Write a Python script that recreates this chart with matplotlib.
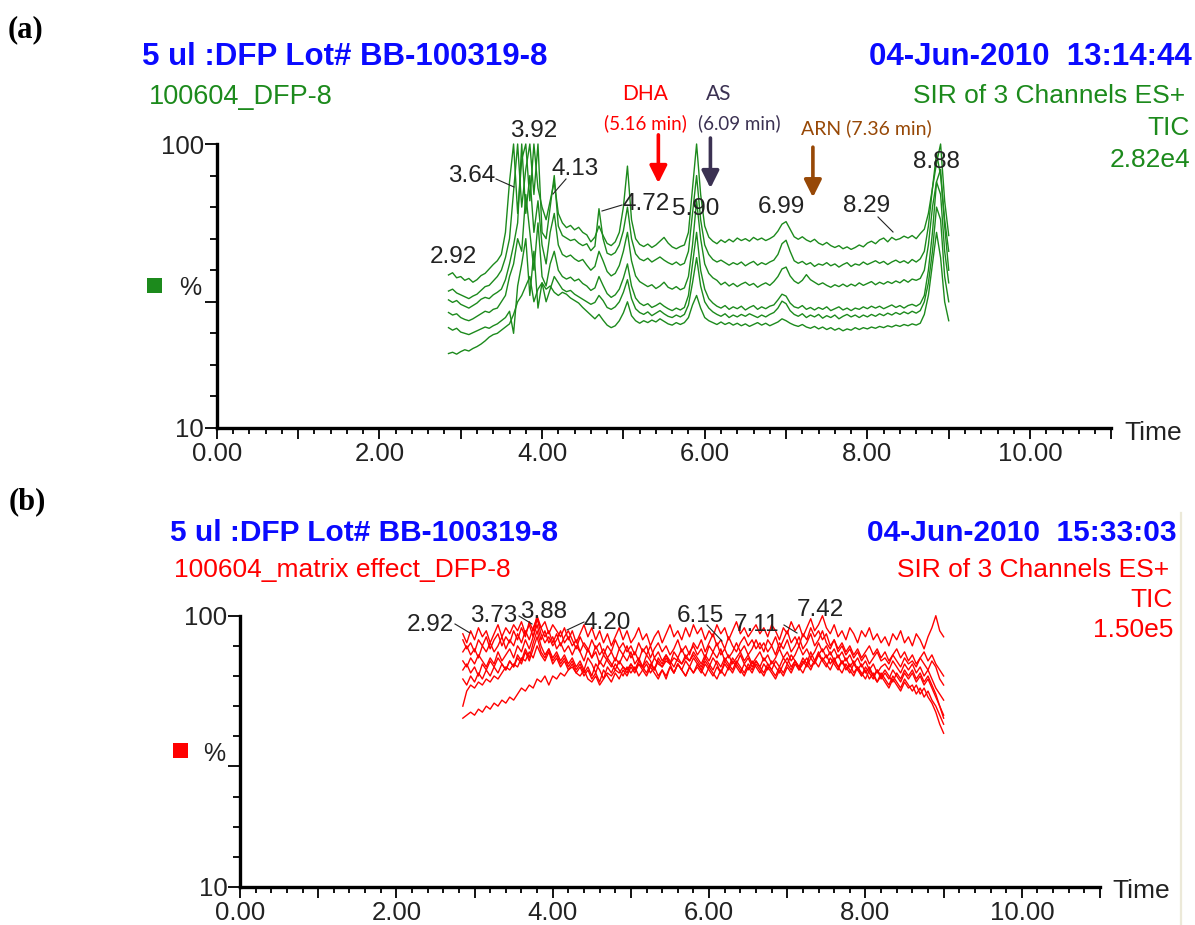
import numpy as np
import matplotlib
matplotlib.use("Agg")
import matplotlib.pyplot as plt
from matplotlib.patches import Rectangle
from matplotlib.lines import Line2D

W, H = 1195, 925
plt.rcParams['font.family'] = ['Liberation Sans', 'DejaVu Sans']

# ---------------- data ----------------
# sampling grid (min), 0.05 min steps from 2.85 to 9.00
TIME = np.round(2.85 + 0.05 * np.arange(124), 2)

tic_a1 = [58.5, 59.2, 57.6, 58.0, 56.8, 57.4, 56.2, 57.0, 58.3, 59.0, 60.4, 61.8,
          63, 65, 72, 88, 100, 78, 95, 100, 82, 100, 86, 80, 76, 82, 88, 78,
          75, 73.5, 74.2, 72.8, 73.6, 72.0, 71.2, 69.0, 70.5,
          74, 71, 68.5, 67.8, 69.0, 72, 80, 93, 76, 70, 68.2, 67.5, 68.3, 67.2, 68.0,
          69.2, 70.4, 68.6, 67.4, 66.8, 67.5, 68.0, 72, 86, 100, 84, 74, 70.5, 69.2,
          68.4, 69.6, 68.8, 69.8, 69.0, 70.2, 69.4, 70.0, 69.2, 70.4, 69.6, 70.2, 69.4,
          70.0, 70.8, 72.4, 74.6, 75.4, 73.0, 70.6, 69.8, 70.6, 69.6, 69.0, 69.8, 68.6,
          68.0, 68.8, 67.8, 67.2, 67.8, 66.8, 67.4, 66.6, 67.2, 68.0, 67.4, 68.6, 69.2,
          68.4, 69.6, 70.2, 69.0, 70.4, 69.6, 70.0, 70.8, 70.2, 71.0, 70.0, 71.6, 73,
          78, 86, 94, 100, 82, 71]
tic_a2 = [53.4, 54.0, 52.8, 52.2, 51.6, 51.0, 51.8, 52.4, 53.6, 54.8, 55.2, 56.6,
          58, 60, 64, 70, 85, 100, 80, 92, 100, 84, 100, 72, 70, 80, 90, 74,
          71.0, 70.2, 69.4, 69.8, 68.6, 67.8, 68.4, 66.2, 67.6,
          79.5, 70.0, 65.4, 64.8, 65.6, 68.0, 72.5, 80.0, 70.0,
          65.2, 63.6, 63.0, 63.8, 62.6, 63.4, 64.2, 63.2, 62.4, 61.8, 62.6, 61.6, 62.2,
          66, 78, 90, 76, 68,
          65.0, 63.4, 62.6, 63.2, 62.4, 61.6, 62.4, 61.8, 62.6, 61.4, 62.2, 62.8, 61.6,
          62.4, 61.8, 62.6, 63.2,
          65.0, 68.4, 69.5, 66.0, 63.0,
          62.2, 62.8, 61.8, 62.4, 61.2, 62.0, 61.6, 62.4, 61.4, 62.0, 61.0, 61.8, 62.4,
          61.2, 62.0, 61.6, 62.6, 61.8, 62.4, 63.0, 62.2, 62.8, 61.8, 62.6, 63.2, 62.4,
          63.0, 62.2, 63.4, 62.6, 63.6,
          66, 74, 86, 97, 90, 76, 66]
tic_a3 = [50.6, 49.8, 50.4, 49.2, 48.6, 48.0, 48.8, 49.6, 50.8, 51.4, 51.0, 52.2,
          53, 54, 57, 62, 68, 75, 100, 78, 90, 72, 82, 68, 62, 72, 78, 68,
          65.0, 64.2, 64.8, 63.6, 62.8, 63.4, 61.6, 60.0, 61.2,
          66.0, 63.0, 59.6, 58.2, 59.0, 61.5, 66.0, 72.0, 63.0,
          58.2, 56.4, 55.6, 54.8, 55.4, 54.2, 55.0, 56.2, 54.6, 54.0, 54.8, 53.8, 54.4,
          58, 68, 82, 70, 62,
          59.0, 57.6, 56.8, 55.4, 56.2, 55.0, 55.8, 54.8, 55.6, 56.2, 55.2, 55.8, 54.6,
          55.4, 56.0, 55.2, 56.4,
          58.0, 60.4, 61.0, 58.2, 56.6,
          55.8, 56.8, 58.6, 57.0, 56.2, 55.4, 56.0, 55.2, 54.6, 55.4, 54.8, 55.6, 54.8,
          55.6, 55.0, 56.0, 55.2, 55.8, 56.4, 55.4, 56.2, 55.6, 56.4, 55.8, 56.6, 56.0,
          57.0, 56.2, 57.2, 56.8, 57.4,
          60, 68, 80, 88, 92, 74, 60]
tic_a4 = [46.6, 45.8, 46.2, 45.0, 44.4, 44.0, 44.6, 45.4, 46.2, 47.0, 46.6, 47.6,
          48, 50, 52, 58, 62, 70, 66, 84, 72, 60, 75, 58, 55, 62, 66, 60,
          58.0, 57.2, 57.8, 56.6, 57.2, 55.8, 55.0, 53.6, 54.4,
          58.0, 55.2, 52.6, 51.4, 52.2, 54.0, 57.5, 62.0, 55.0,
          51.2, 49.6, 48.8, 49.4, 48.2, 48.8, 49.6, 48.6, 47.8, 47.2, 48.0, 47.4, 48.2,
          52, 62, 72, 60, 54,
          51.0, 49.6, 48.6, 48.0, 48.8, 47.6, 48.4, 47.8, 48.6, 47.4, 48.2, 48.8, 47.6,
          48.4, 47.8, 48.6, 49.0,
          50.6, 52.4, 51.8, 49.6, 48.4,
          48.0, 48.8, 47.6, 48.2, 47.4, 48.2, 47.6, 48.4, 47.2, 47.8, 48.4, 47.4, 48.0,
          47.2, 48.0, 47.6, 48.4, 47.8, 48.6, 48.0, 48.6, 47.8, 48.4, 49.0, 48.2, 48.8,
          48.0, 48.8, 49.2, 48.6, 49.4,
          52, 60, 72, 88, 84, 66, 56]
tic_a5 = [41.8, 41.0, 41.6, 40.4, 40.0, 39.6, 40.2, 40.8, 41.4, 42.0, 41.6, 42.4,
          43, 44, 45, 47, 40, 55, 62, 70, 52, 66, 48, 56, 50, 54, 58, 56,
          54.0, 53.2, 53.6, 52.4, 51.6, 50.8, 50.0, 49.2, 49.8,
          52.0, 50.4, 48.2, 47.6, 48.4, 50.0, 53.0, 57.0, 51.0,
          47.8, 46.6, 46.0, 46.8, 45.6, 46.4, 47.2, 46.2, 45.4, 45.0, 45.8, 45.2, 46.0,
          49, 56, 64, 55, 50,
          48.0, 46.8, 46.0, 45.4, 46.2, 45.0, 45.8, 45.2, 46.0, 45.4, 46.2, 45.6, 45.0,
          45.8, 45.2, 46.0, 46.6,
          48.0, 50.2, 49.4, 47.2, 46.0,
          45.4, 46.2, 45.0, 45.8, 45.2, 46.0, 44.8, 45.6, 45.0, 45.8, 44.6, 45.4, 46.0,
          45.2, 45.8, 45.0, 45.8, 45.2, 46.0, 45.4, 46.2, 45.6, 46.4, 45.8, 46.6, 46.0,
          46.8, 46.2, 47.0, 46.4, 47.2,
          50, 56, 66, 80, 76, 58, 50]
tic_a6 = [33.6, 34.0, 33.4, 34.2, 34.8, 34.4, 35.2, 35.8, 36.6, 37.6, 38.8, 39.6,
          40, 41, 42, 43, 46, 50, 52, 55, 58, 50, 54, 56, 54, 55, 53, 52,
          53.0, 52.4, 51.2, 50.4, 49.6, 48.2, 47.0, 45.8, 44.6,
          46.0, 44.2, 42.6, 41.8, 42.4, 44.0, 46.5, 50.0, 45.6,
          44.0, 43.2, 44.0, 43.4, 44.2, 43.6, 44.6, 43.8, 43.0, 42.6, 43.4, 42.8, 43.4,
          45, 49, 52, 48, 45,
          44.0, 43.4, 42.8, 43.6, 42.8, 43.4, 42.6, 43.2, 42.4, 43.0, 42.2, 42.8, 43.4,
          42.6, 43.2, 42.4, 43.0,
          43.6, 44.6, 44.0, 43.2, 42.6,
          42.2, 42.8, 42.0, 41.6, 42.2, 41.4, 42.0, 41.2, 41.8, 41.0, 41.6, 40.8, 41.4,
          41.0, 41.8, 41.2, 41.8, 41.4, 42.0, 41.6, 42.2, 41.8, 42.4, 42.0, 42.6, 42.2,
          42.8, 42.4, 43.0, 42.6, 43.2,
          46, 52, 62, 72, 64, 50, 44]

tic_b1 = [94, 91, 95, 92, 96, 93, 95, 91, 94, 97, 93, 96,
          94, 97, 95, 98, 94, 97, 93, 99, 96, 98, 94, 97, 95, 93, 96, 92,
          95, 91, 94, 97, 93, 96, 92, 95, 91, 94, 90, 93, 96, 92, 95, 91,
          93, 96, 92, 94, 90, 93, 95, 91, 94, 97, 93, 95, 92, 96, 93, 97,
          94, 96, 92, 95, 93, 97, 94, 96, 92, 95, 98, 94, 96, 93, 95, 97,
          94, 96, 93, 97, 95, 92, 96, 94, 98, 95, 97, 93, 96, 99, 95, 97,
          100, 96, 94, 97, 93, 95, 92, 96, 94, 91, 95, 93, 96, 92, 94, 91,
          93, 90, 94, 92, 95, 91, 93, 90, 94, 92, 89, 93, 96, 100, 95, 93]
tic_b2 = [92, 89, 91, 88, 92, 90, 93, 89, 92, 94, 90, 93,
          91, 95, 92, 96, 93, 98, 95, 100, 96, 93, 95, 91, 94, 90, 93, 95,
          92, 89, 93, 90, 88, 92, 89, 91, 87, 90, 88, 92, 89, 91, 88, 90,
          87, 91, 88, 90, 86, 89, 91, 88, 90, 87, 89, 92, 88, 90, 87, 91,
          89, 92, 88, 91, 94, 90, 92, 89, 93, 90, 88, 91, 93, 90, 92, 89,
          91, 88, 92, 90, 93, 89, 92, 95, 91, 93, 90, 94, 92, 96, 93, 95,
          92, 94, 90, 92, 89, 91, 88, 90, 87, 89, 86, 88, 90, 87, 89, 86,
          88, 85, 87, 89, 86, 88, 85, 87, 84, 86, 88, 85, 87, 84, 82, 80]
tic_b3 = [88, 90, 87, 89, 86, 90, 88, 91, 88, 90, 93, 89,
          92, 90, 94, 91, 95, 92, 96, 99, 94, 91, 93, 90, 92, 95, 91, 93,
          90, 92, 88, 91, 89, 86, 90, 87, 89, 86, 88, 85, 89, 87, 90, 86,
          88, 85, 89, 87, 90, 86, 88, 85, 87, 84, 88, 86, 89, 86, 88, 90,
          87, 89, 86, 90, 88, 91, 87, 89, 86, 88, 91, 88, 90, 87, 89, 92,
          89, 91, 88, 90, 87, 91, 89, 92, 88, 90, 93, 89, 91, 94, 90, 92,
          95, 91, 89, 92, 88, 90, 87, 89, 86, 88, 85, 87, 84, 86, 88, 85,
          86, 84, 87, 85, 83, 86, 84, 85, 83, 86, 84, 82, 85, 83, 79, 77]
tic_b4 = [85, 83, 86, 84, 87, 85, 83, 86, 84, 88, 85, 87,
          89, 86, 90, 88, 92, 89, 93, 97, 92, 95, 91, 93, 89, 91, 88, 90,
          87, 90, 88, 85, 89, 86, 88, 84, 87, 85, 83, 86, 84, 87, 85, 88,
          84, 86, 83, 87, 85, 82, 86, 84, 87, 85, 83, 86, 84, 87, 85, 88,
          86, 84, 87, 85, 88, 86, 89, 85, 87, 84, 86, 88, 85, 87, 84, 86,
          88, 85, 87, 84, 86, 89, 86, 88, 85, 87, 90, 87, 89, 86, 88, 91,
          88, 90, 87, 89, 86, 88, 85, 87, 84, 86, 83, 85, 82, 84, 81, 83,
          84, 82, 85, 83, 81, 84, 82, 84, 81, 83, 80, 82, 79, 76, 74, 72]
tic_b5 = [82, 84, 81, 83, 80, 84, 82, 85, 83, 86, 84, 82,
          85, 83, 87, 85, 89, 86, 91, 95, 90, 87, 89, 86, 88, 85, 87, 84,
          86, 83, 85, 82, 86, 84, 81, 85, 83, 86, 84, 82, 85, 83, 81, 84,
          82, 85, 83, 81, 84, 82, 85, 83, 86, 84, 81, 84, 82, 85, 83, 86,
          84, 82, 85, 83, 86, 84, 81, 85, 83, 86, 84, 87, 84, 86, 83, 85,
          83, 86, 84, 82, 85, 83, 86, 84, 87, 85, 83, 86, 84, 88, 85, 87,
          89, 86, 88, 85, 87, 84, 86, 83, 85, 82, 84, 81, 83, 80, 82, 79,
          81, 79, 82, 80, 78, 81, 79, 81, 78, 80, 77, 79, 76, 73, 70, 67]
tic_b6 = [79, 77, 80, 78, 81, 79, 82, 80, 83, 81, 84, 82,
          85, 83, 86, 84, 88, 85, 89, 93, 88, 86, 89, 85, 87, 84, 86, 83,
          85, 82, 84, 81, 83, 80, 84, 82, 79, 83, 81, 84, 82, 80, 83, 81,
          83, 80, 82, 84, 81, 83, 80, 82, 79, 83, 81, 84, 82, 80, 83, 81,
          83, 81, 84, 82, 80, 83, 81, 84, 82, 85, 83, 81, 84, 82, 85, 83,
          81, 84, 82, 85, 83, 81, 84, 86, 83, 85, 82, 84, 86, 83, 85, 88,
          85, 87, 84, 86, 83, 85, 82, 84, 81, 83, 80, 82, 79, 81, 78, 80,
          78, 76, 79, 77, 75, 78, 76, 77, 74, 76, 73, 75, 72, 70, 67, 64]
tic_b7 = [70, 75, 77, 76, 78, 77, 79, 78, 80, 79, 81, 83,
          82, 84, 83, 86, 85, 88, 86, 90, 87, 85, 88, 84, 86, 83, 85, 82,
          84, 81, 83, 80, 82, 79, 81, 78, 82, 80, 78, 81, 79, 82, 80, 83,
          81, 84, 82, 80, 83, 81, 79, 82, 80, 83, 81, 84, 82, 80, 83, 81,
          84, 82, 80, 83, 81, 79, 82, 80, 83, 81, 84, 82, 80, 83, 81, 84,
          82, 80, 83, 81, 79, 82, 80, 83, 81, 84, 82, 85, 83, 86, 84, 87,
          85, 83, 86, 84, 82, 85, 83, 81, 84, 82, 80, 83, 81, 79, 82, 80,
          82, 80, 78, 81, 79, 82, 80, 82, 79, 81, 78, 80, 77, 74, 70, 66]
tic_b8 = [66, 67, 68, 67, 69, 68, 70, 69, 71, 70, 72, 71,
          73, 72, 74, 76, 75, 77, 76, 79, 78, 80, 77, 80, 79, 81, 80, 82,
          83, 81, 80, 82, 79, 78, 80, 77, 79, 81, 80, 82, 81, 83, 82, 84,
          82, 84, 83, 85, 83, 86, 84, 83, 85, 84, 86, 85, 84, 86, 85, 87,
          85, 83, 86, 84, 82, 85, 83, 86, 84, 82, 85, 83, 81, 84, 82, 85,
          83, 81, 84, 82, 80, 83, 81, 84, 82, 85, 83, 81, 84, 82, 85, 83,
          86, 84, 82, 85, 83, 81, 84, 82, 80, 83, 81, 79, 82, 80, 78, 81,
          79, 77, 80, 78, 76, 79, 77, 75, 77, 74, 76, 73, 71, 68, 64, 61]

traces_a = [tic_a1, tic_a2, tic_a3, tic_a4, tic_a5, tic_a6]
traces_b = [tic_b1, tic_b2, tic_b3, tic_b4, tic_b5, tic_b6, tic_b7, tic_b8]

xtick_major = [0, 1, 2, 3, 4, 5, 6, 7, 8, 9, 10, 11]
xtick_labels = ["0.00", "", "2.00", "", "4.00", "", "6.00", "", "8.00", "", "10.00", ""]
ytick_major = [10, 50, 100]
ytick_labels = ["10", "", "100"]

peaks_a = ["2.92", "3.64", "3.92", "4.13", "4.72", "5.90", "6.99", "8.29", "8.88"]
peaks_b = ["2.92", "3.73", "3.88", "4.20", "6.15", "7.11", "7.42"]

# compound markers: name, retention label, arrow time, arrow top, arrow tip
compounds = ["DHA", "AS", "ARN"]
compound_rt = ["(5.16 min)", "(6.09 min)", "(7.36 min)"]
arrow_t = [5.43, 6.07, 7.33]
arrow_top = [102.9, 101.9, 99.0]
arrow_tip = [87.6, 86.0, 83.1]

# ---------------- layout ----------------
GREEN = '#1c8a1c'
RED = '#ff0000'
BLUE = '#0a0aff'
C_DHA, C_AS, C_ARN = '#ff0000', '#3b3152', '#974806'

fig = plt.figure(figsize=(W / 100, H / 100), dpi=100)
fig.patch.set_facecolor('white')


def ftext(x, y, s, **kw):
    return fig.text(x / W, 1 - y / H, s, **kw)


def fline(x0, y0, x1, y1, color='#222222', lw=0.8):
    fig.add_artist(Line2D([x0 / W, x1 / W], [1 - y0 / H, 1 - y1 / H],
                          transform=fig.transFigure, color=color, lw=lw))


def fsquare(x0, y0, x1, y1, color):
    fig.add_artist(Rectangle((x0 / W, 1 - y1 / H), (x1 - x0) / W, (y1 - y0) / H,
                             transform=fig.transFigure, color=color, lw=0))


def style_axes(ax):
    ax.set_xlim(0, 11)
    ax.set_ylim(10, 100)
    for s in ['top', 'right']:
        ax.spines[s].set_visible(False)
    for s in ['left', 'bottom']:
        ax.spines[s].set_linewidth(2.4)
        ax.spines[s].set_color('black')
    ax.set_xticks(xtick_major)
    ax.set_xticklabels(xtick_labels)
    ax.set_xticks(np.round(np.arange(0, 11.01, 0.2), 2), minor=True)
    ax.set_yticks(ytick_major)
    ax.set_yticklabels(ytick_labels)
    ax.set_yticks([20, 30, 40, 60, 70, 80, 90], minor=True)
    ax.tick_params(axis='x', which='major', direction='out', length=8, width=1.3,
                   pad=2, labelsize=18.5, colors='black', labelcolor='#222222')
    ax.tick_params(axis='x', which='minor', direction='out', length=4, width=1.3)
    ax.tick_params(axis='y', which='major', direction='out', length=9, width=1.3,
                   pad=0, labelsize=18.5, labelcolor='#222222')
    ax.tick_params(axis='y', which='minor', direction='out', length=5, width=1.3)
    ax.patch.set_alpha(0)


# ---------- panel (a) ----------
ax_a = fig.add_axes([216.7 / W, 1 - 428 / H, 894.7 / W, 284 / H])
style_axes(ax_a)
for tr in traces_a:
    ax_a.plot(TIME, tr, color=GREEN, lw=1.0, clip_on=False)

for name, rt, t, top, tip, col, (nx, ny), (rx, ry) in zip(
        compounds, compound_rt, arrow_t, arrow_top, arrow_tip,
        [C_DHA, C_AS, C_ARN],
        [(645, 100), (719, 100), (None, None)],
        [(645, 129), (739, 129), (866, 134)]):
    ax_a.annotate('', xy=(t, tip), xytext=(t, top),
                  arrowprops=dict(arrowstyle='-|>', color=col, lw=2.6,
                                  mutation_scale=26, shrinkA=0, shrinkB=0),
                  annotation_clip=False)
    if nx is not None:
        ftext(nx, ny, name, color=col, ha='center', va='baseline',
              fontsize=15, family=['Lato', 'DejaVu Sans'])
        ftext(rx, ry, rt, color=col, ha='center', va='baseline',
              fontsize=13.5, family=['Lato', 'DejaVu Sans'])
    else:
        ftext(rx, ry, name + " " + rt, color=col, ha='center', va='baseline',
              fontsize=14, family=['Lato', 'DejaVu Sans'])

pos_a = [(430, 263), (448, 182), (510, 137), (552, 175), (623, 210),
         (672, 215), (758, 213), (843, 212), (913, 168)]
for s, (x, y) in zip(peaks_a, pos_a):
    ftext(x, y, s, ha='left', va='baseline', fontsize=17.5, color='#222222')
fline(496, 179, 514, 187)
fline(566, 179, 553, 194)
fline(602, 211, 622, 205)
fline(878, 217, 893, 232)

ftext(8, 37, "(a)", fontsize=22, fontweight='bold',
      family=['Liberation Serif', 'DejaVu Serif'], va='baseline')
ftext(142, 65, "5 ul :DFP Lot# BB-100319-8", fontsize=22.5, fontweight='bold',
      color=BLUE, va='baseline')
ftext(149, 104, "100604_DFP-8", fontsize=19.5, color=GREEN, va='baseline')
ftext(1192, 65, "04-Jun-2010  13:14:44", fontsize=22.5, fontweight='bold',
      color=BLUE, va='baseline', ha='right')
ftext(1185, 103, "SIR of 3 Channels ES+", fontsize=19, color=GREEN,
      va='baseline', ha='right')
ftext(1190, 135, "TIC", fontsize=19, color=GREEN, va='baseline', ha='right')
ftext(1190, 167, "2.82e4", fontsize=19, color=GREEN, va='baseline', ha='right')
fsquare(147, 278, 162, 293, GREEN)
ftext(179, 295, "%", fontsize=18, color='#222222', va='baseline')
ftext(1124, 440, "Time", fontsize=19, color='#222222', va='baseline')

# ---------- panel (b) ----------
ax_b = fig.add_axes([240 / W, 1 - 887 / H, 860 / W, 271.3 / H])
style_axes(ax_b)
for tr in traces_b:
    ax_b.plot(TIME, tr, color=RED, lw=1.0, clip_on=False)

pos_b = [(407, 631), (470, 622), (520, 618), (583, 629), (677, 622),
         (734, 631), (797, 616)]
for s, (x, y) in zip(peaks_b, pos_b):
    ftext(x, y, s, ha='left', va='baseline', fontsize=17.5, color='#222222')
fline(455, 624, 470, 633)
fline(519, 616, 532, 624)
fline(567, 630, 584, 622)
fline(707, 625, 722, 641)
fline(784, 625, 797, 633)

ftext(9, 509, "(b)", fontsize=22, fontweight='bold',
      family=['Liberation Serif', 'DejaVu Serif'], va='baseline')
ftext(170, 541, "5 ul :DFP Lot# BB-100319-8", fontsize=21.5, fontweight='bold',
      color=BLUE, va='baseline')
ftext(174, 577, "100604_matrix effect_DFP-8", fontsize=19, color=RED, va='baseline')
ftext(1177, 541, "04-Jun-2010  15:33:03", fontsize=21.5, fontweight='bold',
      color=BLUE, va='baseline', ha='right')
ftext(1169, 577, "SIR of 3 Channels ES+", fontsize=19, color=RED,
      va='baseline', ha='right')
ftext(1173, 607, "TIC", fontsize=19, color=RED, va='baseline', ha='right')
ftext(1173, 637, "1.50e5", fontsize=19, color=RED, va='baseline', ha='right')
fsquare(173, 743, 188, 758, RED)
ftext(203, 761, "%", fontsize=18, color='#222222', va='baseline')
ftext(1112, 898, "Time", fontsize=19, color='#222222', va='baseline')
# faint window border at the right of panel (b)
fline(1180.5, 513, 1180.5, 925, color='#ece9d8', lw=1.6)

fig.savefig("out.png", dpi=100, facecolor='white')
